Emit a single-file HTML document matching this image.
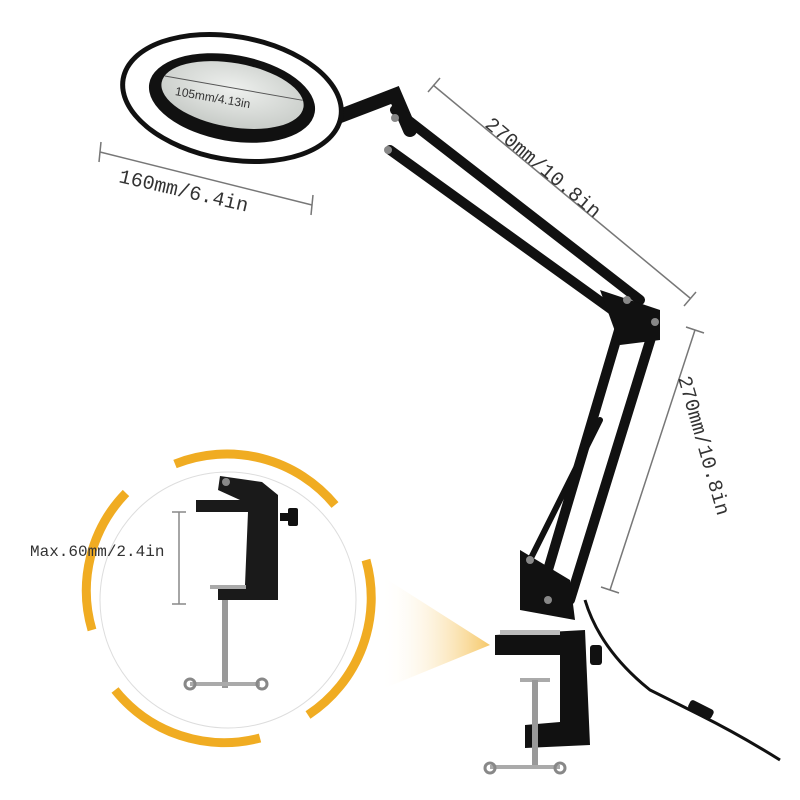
<!DOCTYPE html>
<html><head><meta charset="utf-8"><style>
html,body{margin:0;padding:0;background:#fff;width:800px;height:800px;overflow:hidden}
svg{display:block}
text{font-family:"Liberation Mono",monospace;fill:#333}
</style></head><body>
<svg width="800" height="800" viewBox="0 0 800 800" xmlns="http://www.w3.org/2000/svg">
<defs>
<linearGradient id="yg" x1="1" y1="0" x2="0" y2="0">
<stop offset="0" stop-color="#f6c868"/><stop offset="1" stop-color="#fff" stop-opacity="0"/>
</linearGradient>
<radialGradient id="lens" cx="0.5" cy="0.4" r="0.6"><stop offset="0" stop-color="#eef0ee"/><stop offset="1" stop-color="#c8ccc8"/></radialGradient>
</defs>

<polygon points="380,575 490,645 380,690" fill="url(#yg)"/>

<circle cx="228" cy="600" r="128" fill="#fff" stroke="#ddd" stroke-width="1"/>
<g fill="none" stroke="#f0ac22" stroke-width="9">
<path d="M 175 464 A 140 140 0 0 1 335 505"/>
<path d="M 126 493 A 140 140 0 0 0 92 630"/>
<path d="M 366 560 A 140 140 0 0 1 308 715"/>
<path d="M 260 738 A 140 140 0 0 1 115 690"/>
</g>
<line x1="179" y1="512" x2="179" y2="604" stroke="#888" stroke-width="1.5"/>
<line x1="172" y1="512" x2="186" y2="512" stroke="#888" stroke-width="1.5"/>
<line x1="172" y1="604" x2="186" y2="604" stroke="#888" stroke-width="1.5"/>
<text x="30" y="556" font-size="16">Max.60mm/2.4in</text>
<path d="M220 476 L262 482 L278 495 L278 600 L218 600 L218 585 L245 585 L248 512 L196 512 L196 500 L240 500 L218 490 Z" fill="#1a1a1a"/>
<circle cx="226" cy="482" r="4" fill="#888"/>
<rect x="280" y="513" width="10" height="8" fill="#111"/><rect x="288" y="508" width="10" height="18" rx="2" fill="#111"/>
<rect x="210" y="585" width="36" height="4" fill="#aaa"/>
<rect x="222" y="600" width="6" height="88" fill="#999"/>
<rect x="190" y="682" width="70" height="4" fill="#aaa"/>
<circle cx="190" cy="684" r="5" fill="none" stroke="#888" stroke-width="3"/>
<circle cx="262" cy="684" r="5" fill="none" stroke="#888" stroke-width="3"/>

<!-- arms (behind magnifier) -->
<g stroke="#111" stroke-linecap="round" fill="none">
<path d="M335 118 L395 95 L410 130" stroke-width="14"/>
<line x1="395" y1="110" x2="640" y2="300" stroke-width="10"/>
<line x1="390" y1="150" x2="640" y2="330" stroke-width="10"/>
<line x1="625" y1="310" x2="545" y2="580" stroke-width="10"/>
<line x1="655" y1="325" x2="570" y2="600" stroke-width="10"/>
<line x1="600" y1="420" x2="530" y2="560" stroke-width="6"/>
</g>

<g transform="rotate(10 232 98)">
<ellipse cx="232" cy="98" rx="113" ry="64" fill="#111"/>
<ellipse cx="232" cy="98" rx="108" ry="59" fill="#fff"/>
<ellipse cx="232" cy="98" rx="84" ry="43" fill="#111"/>
<ellipse cx="232" cy="95" rx="72" ry="32" fill="url(#lens)"/>
<line x1="162" y1="88" x2="302" y2="88" stroke="#555" stroke-width="1"/>
<text x="175" y="105" font-size="12" style="font-family:'Liberation Sans',sans-serif">105mm/4.13in</text>
</g>

<line x1="100" y1="152" x2="312" y2="205" stroke="#777" stroke-width="1.5"/>
<line x1="101" y1="142" x2="99" y2="162" stroke="#777" stroke-width="1.5"/>
<line x1="313" y1="195" x2="311" y2="215" stroke="#777" stroke-width="1.5"/>
<text x="0" y="0" font-size="20" transform="translate(118,182) rotate(13)">160mm/6.4in</text>

<line x1="433" y1="85" x2="690" y2="298" stroke="#777" stroke-width="1.5"/>
<line x1="428" y1="92" x2="440" y2="78" stroke="#777" stroke-width="1.5"/>
<line x1="684" y1="306" x2="696" y2="292" stroke="#777" stroke-width="1.5"/>
<text x="0" y="0" font-size="20" transform="translate(484,126) rotate(40)">270mm/10.8in</text>

<line x1="695" y1="330" x2="610" y2="590" stroke="#777" stroke-width="1.5"/>
<line x1="686" y1="327" x2="704" y2="333" stroke="#777" stroke-width="1.5"/>
<line x1="601" y1="587" x2="619" y2="593" stroke="#777" stroke-width="1.5"/>
<text x="0" y="0" font-size="20" transform="translate(678,378) rotate(74)">270mm/10.8in</text>

<polygon points="600,290 660,310 660,340 620,345" fill="#111"/>
<polygon points="520,550 570,580 575,620 520,610" fill="#111"/>
<circle cx="627" cy="300" r="4" fill="#888"/><circle cx="655" cy="322" r="4" fill="#888"/>
<circle cx="395" cy="118" r="4" fill="#888"/><circle cx="388" cy="150" r="4" fill="#888"/>
<circle cx="530" cy="560" r="4" fill="#888"/><circle cx="548" cy="600" r="4" fill="#888"/>

<path d="M495 635 L585 630 L590 745 L525 748 L525 725 L560 722 L560 655 L495 655 Z" fill="#111"/>
<rect x="500" y="630" width="60" height="5" fill="#bbb"/>
<rect x="590" y="645" width="12" height="20" rx="3" fill="#111"/>
<rect x="520" y="678" width="30" height="4" fill="#aaa"/>
<rect x="532" y="680" width="6" height="85" fill="#999"/>
<rect x="490" y="765" width="70" height="4" fill="#aaa"/>
<circle cx="490" cy="768" r="5" fill="none" stroke="#888" stroke-width="3"/>
<circle cx="560" cy="768" r="5" fill="none" stroke="#888" stroke-width="3"/>

<path d="M585 600 Q600 650 650 690 L700 715 Q740 735 780 760" stroke="#111" stroke-width="3" fill="none"/>
<rect x="688" y="704" width="26" height="10" rx="3" fill="#111" transform="rotate(27 700 709)"/>
</svg>
</body></html>
